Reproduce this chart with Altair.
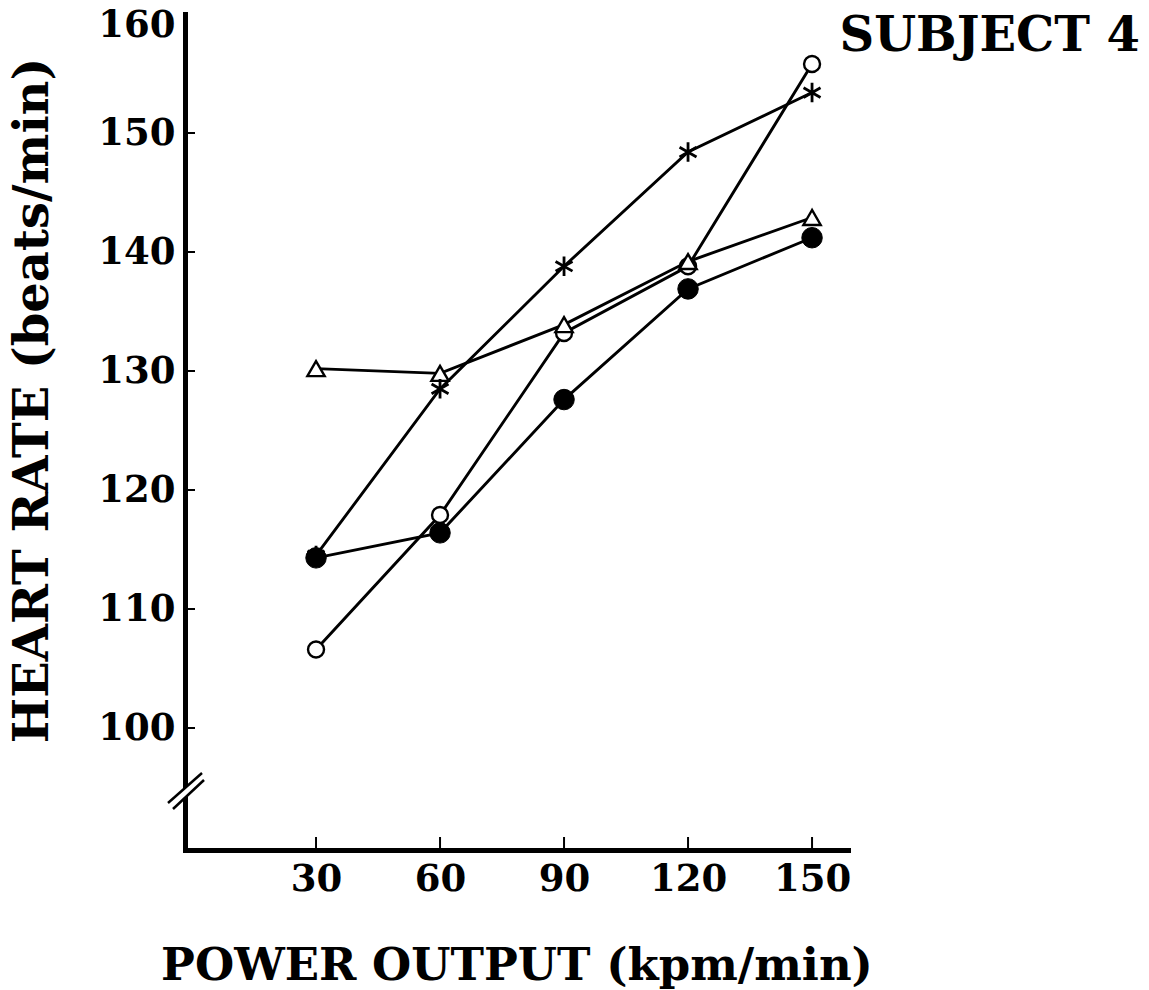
import altair as alt
import pandas as pd

# Power output (kpm/min) and heart-rate readings (beats/min) for the four trials
power = [30, 60, 90, 120, 150]
hr_open_circle = [106.6, 117.9, 133.2, 138.8, 155.8]
hr_filled_circle = [114.3, 116.4, 127.6, 136.9, 141.2]
hr_triangle = [130.2, 129.8, 133.9, 139.2, 142.9]
hr_asterisk = [114.5, 128.5, 138.8, 148.4, 153.4]

x_ticks = [30, 60, 90, 120, 150]
y_ticks = [100, 110, 120, 130, 140, 150, 160]

FONT = "DejaVu Serif"
W, H = 663, 836

x_scale = alt.Scale(domain=[-1.7, 158.7], nice=False, zero=False)
y_scale = alt.Scale(domain=[89.75, 160.0], nice=False, zero=False)

x_axis = alt.Axis(values=x_ticks, title="POWER OUTPUT (kpm/min)", grid=False, ticks=False,
                  domainWidth=5, domainColor="black", domainCap="square",
                  labelFont=FONT, labelFontWeight="bold", labelFontSize=37, labelColor="black",
                  labelPadding=11,
                  titleFont=FONT, titleFontWeight="bold", titleFontSize=45, titleColor="black",
                  titleBaseline="alphabetic", titleY=129)
y_axis = alt.Axis(values=y_ticks, title="HEART RATE (beats/min)", grid=False, ticks=False,
                  domainWidth=5, domainColor="black", domainCap="square",
                  labelFont=FONT, labelFontWeight="bold", labelFontSize=37, labelColor="black",
                  labelPadding=10, labelFlush=True, labelFlushOffset=7,
                  titleFont=FONT, titleFontWeight="bold", titleFontSize=48, titleColor="black",
                  titleBaseline="alphabetic", titleX=-138, titleY=386, titleAngle=270)


def series(values):
    return pd.DataFrame({"power": power, "hr": values})


ASTERISK = "M0,-1L0,1M-0.87,-0.5L0.87,0.5M-0.87,0.5L0.87,-0.5"

specs = [
    (hr_open_circle, dict(shape="circle", size=256, filled=True, fill="white", stroke="black", strokeWidth=2.4)),
    (hr_filled_circle, dict(shape="circle", size=420, filled=True, fill="black", stroke="black", strokeWidth=1)),
    (hr_triangle, dict(shape="triangle-up", size=300, filled=True, fill="white", stroke="black", strokeWidth=2.4)),
    (hr_asterisk, dict(shape=ASTERISK, size=380, filled=False, stroke="black", strokeWidth=2.8)),
]

enc_x = alt.X("power:Q", scale=x_scale, axis=x_axis)
enc_y = alt.Y("hr:Q", scale=y_scale, axis=y_axis)

lines = [
    alt.Chart(series(v)).mark_line(color="black", strokeWidth=2.9).encode(x=enc_x, y=enc_y, order="power:Q")
    for v, _ in specs
]
points = [
    alt.Chart(series(v)).mark_point(opacity=1, **style).encode(x=enc_x, y=enc_y)
    for v, style in specs
]

# short inward ticks on both axes
xt = alt.Chart(pd.DataFrame({"power": x_ticks})).mark_rule(color="black", strokeWidth=2).encode(
    x=alt.X("power:Q", scale=x_scale), y=alt.value(H - 13), y2=alt.value(H))
yt = alt.Chart(pd.DataFrame({"hr": y_ticks[:-1]})).mark_rule(color="black", strokeWidth=2).encode(
    y=alt.Y("hr:Q", scale=y_scale), x=alt.value(0), x2=alt.value(10))

# axis break mark "//" on the y axis
one = pd.DataFrame({"k": [0]})
brk_white = alt.Chart(one).mark_rule(color="white", strokeWidth=6).encode(
    x=alt.value(-14), y=alt.value(792), x2=alt.value(17), y2=alt.value(763))
brk_a = alt.Chart(one).mark_rule(color="black", strokeWidth=2.5).encode(
    x=alt.value(-17), y=alt.value(789), x2=alt.value(17), y2=alt.value(759))
brk_b = alt.Chart(one).mark_rule(color="black", strokeWidth=2.5).encode(
    x=alt.value(-12), y=alt.value(795), x2=alt.value(19), y2=alt.value(766))

label = alt.Chart(one).mark_text(text="SUBJECT 4", font=FONT, fontWeight="bold", fontSize=48,
                                 align="right", baseline="alphabetic", color="black").encode(
    x=alt.value(955), y=alt.value(37))

chart = alt.layer(*lines, xt, yt, brk_white, brk_a, brk_b, *points, label).properties(
    width=W, height=H,
    autosize=alt.AutoSizeParams(type="none"),
    padding={"left": 185, "top": 14, "right": 301, "bottom": 140},
    background="white",
).configure_view(stroke=None)

chart.save("out.html", embed_options={"renderer": "svg", "actions": False})
